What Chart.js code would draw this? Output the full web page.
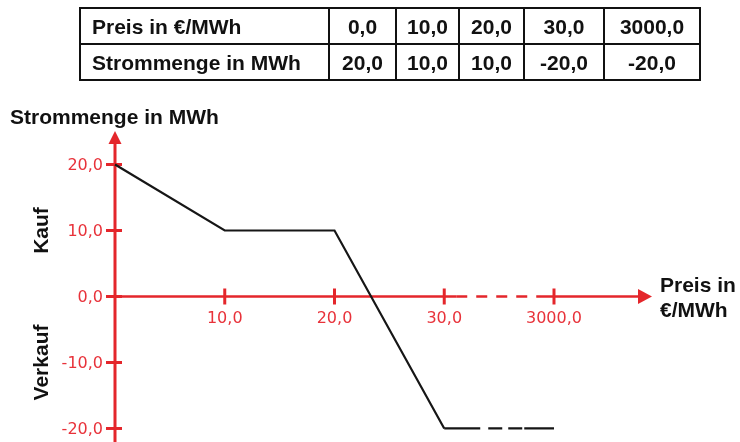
<!DOCTYPE html>
<html><head><meta charset="utf-8">
<script src="https://cdn.jsdelivr.net/npm/chart.js@4.4.1/dist/chart.umd.min.js"></script>
<style>
html,body{margin:0;padding:0;background:#fff;}
#wrap{position:relative;width:740px;height:442px;overflow:hidden;}
#c{position:absolute;left:0;top:0;}
table{position:absolute;left:79px;top:7px;border-collapse:collapse;table-layout:fixed;width:620px;
  font:bold 21px "Liberation Sans",Arial,sans-serif;color:#111;}
td{border:2px solid #111;padding:0;height:34px;text-align:center;line-height:1;white-space:nowrap;}
tr:first-child td{border-top:4px solid #111;}
td:first-child{text-align:left;padding-left:11px;}
</style></head><body>
<div id="wrap"><canvas id="c" width="740" height="442"></canvas><table id="tbl"></table></div>
<script>
// ---- data ----
const priceLabels = ['0,0','10,0','20,0','30,0','3000,0'];
const quantities = [20, 10, 10, -20, -20];
const quantityLabels = ['20,0','10,0','10,0','-20,0','-20,0'];
const yTickValues = [20, 10, 0, -10, -20];
const yTickLabels = ['20,0','10,0','0,0','-10,0','-20,0'];
const rowTitles = ['Preis in €/MWh', 'Strommenge in MWh'];
const yTitle = 'Strommenge in MWh';
const xTitleLines = ['Preis in', '€/MWh'];
const sideLabels = ['Kauf', 'Verkauf'];
const sideLabelValues = [10, -10];

// ---- table ----
const colWidths = [249, 67, 63, 65, 80, 96];
const tbl = document.getElementById('tbl');
const cg = document.createElement('colgroup');
colWidths.forEach(w => { const c = document.createElement('col'); c.style.width = w + 'px'; cg.appendChild(c); });
tbl.appendChild(cg);
[[rowTitles[0], ...priceLabels], [rowTitles[1], ...quantityLabels]].forEach(row => {
  const tr = document.createElement('tr');
  row.forEach(v => { const td = document.createElement('td'); td.textContent = v; tr.appendChild(td); });
  tbl.appendChild(tr);
});

// ---- chart ----
const RED = '#e4262b';
const axesPlugin = {
  id: 'axes',
  beforeDatasetsDraw(chart) {
    const { ctx, scales: { x, y } } = chart;
    const x0 = x.getPixelForValue(0), y0 = y.getPixelForValue(0);
    ctx.save();
    ctx.strokeStyle = RED; ctx.fillStyle = RED; ctx.lineCap = 'butt';
    // y axis
    ctx.lineWidth = 3;
    ctx.beginPath(); ctx.moveTo(x0, chart.height); ctx.lineTo(x0, y.top + 10); ctx.stroke();
    ctx.beginPath(); ctx.moveTo(x0, y.top); ctx.lineTo(x0 - 6.5, y.top + 13); ctx.lineTo(x0 + 6.5, y.top + 13); ctx.closePath(); ctx.fill();
    // x axis
    ctx.lineWidth = 2.5;
    const p3 = x.getPixelForValue(3), p4 = x.getPixelForValue(4);
    ctx.beginPath(); ctx.moveTo(x0, y0); ctx.lineTo(p3 + 12, y0); ctx.stroke();
    ctx.setLineDash([11, 9]);
    ctx.beginPath(); ctx.moveTo(p3 + 12, y0); ctx.lineTo(p4 - 12, y0); ctx.stroke();
    ctx.setLineDash([]);
    ctx.beginPath(); ctx.moveTo(p4 - 12, y0); ctx.lineTo(x.right - 10, y0); ctx.stroke();
    ctx.beginPath(); ctx.moveTo(x.right, y0); ctx.lineTo(x.right - 14, y0 - 7.5); ctx.lineTo(x.right - 14, y0 + 7.5); ctx.closePath(); ctx.fill();
    // ticks
    ctx.lineWidth = 3;
    yTickValues.forEach(v => {
      const py = y.getPixelForValue(v);
      ctx.beginPath(); ctx.moveTo(x0 - 9, py); ctx.lineTo(x0 + 7, py); ctx.stroke();
    });
    priceLabels.forEach((l, i) => {
      if (i === 0) return;
      const px = x.getPixelForValue(i);
      ctx.beginPath(); ctx.moveTo(px, y0 - 8); ctx.lineTo(px, y0 + 8); ctx.stroke();
    });
    // tick labels
    ctx.font = '16px "DejaVu Sans"';
    ctx.fillStyle = '#e8323a';
    ctx.textAlign = 'right'; ctx.textBaseline = 'middle';
    yTickValues.forEach((v, i) => ctx.fillText(yTickLabels[i], x0 - 12, y.getPixelForValue(v) + 1));
    ctx.textAlign = 'center';
    priceLabels.forEach((l, i) => { if (i > 0) ctx.fillText(l, x.getPixelForValue(i), y0 + 22); });
    // titles
    ctx.fillStyle = '#111';
    ctx.font = 'bold 21px "Liberation Sans"';
    ctx.textAlign = 'left'; ctx.textBaseline = 'alphabetic';
    ctx.fillText(yTitle, 10, 124);
    ctx.fillText(xTitleLines[0], x.right + 8, y0 - 4);
    ctx.fillText(xTitleLines[1], x.right + 8, y0 + 21);
    ctx.textAlign = 'center'; ctx.textBaseline = 'middle';
    sideLabels.forEach((t, i) => {
      ctx.save();
      ctx.translate(42, y.getPixelForValue(sideLabelValues[i]));
      ctx.rotate(-Math.PI / 2);
      ctx.fillText(t, 0, 0);
      ctx.restore();
    });
    ctx.restore();
  }
};

new Chart(document.getElementById('c'), {
  type: 'line',
  data: {
    datasets: [{
      data: quantities.map((q, i) => ({ x: i, y: q })),
      borderColor: '#161616',
      borderWidth: 2.2,
      pointRadius: 0,
      tension: 0,
      clip: false,
      segment: {
        borderDash: c => c.p0DataIndex === 3 ? [36, 8, 14, 6, 14, 2, 60] : undefined
      }
    }]
  },
  options: {
    responsive: false,
    animation: false,
    events: [],
    layout: { padding: { left: 115, right: 88, top: 131, bottom: 0 } },
    plugins: { legend: { display: false }, tooltip: { enabled: false } },
    scales: {
      x: { type: 'linear', min: 0, max: 4.893, display: false },
      y: { type: 'linear', min: -22.05, max: 25.08, display: false }
    }
  },
  plugins: [axesPlugin]
});
</script>
</body></html>
